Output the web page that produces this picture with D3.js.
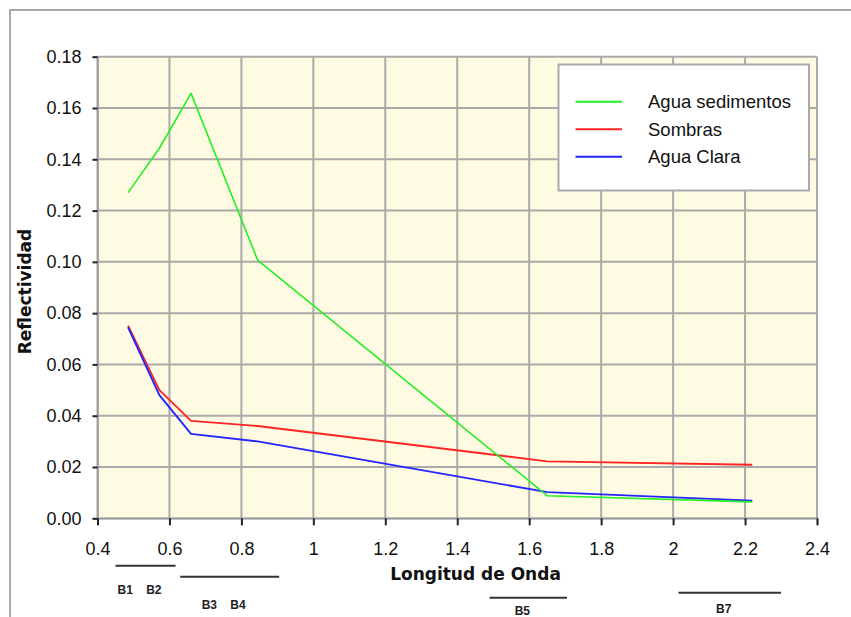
<!DOCTYPE html>
<html>
<head>
<meta charset="utf-8">
<script src="https://cdn.jsdelivr.net/npm/d3@7"></script>
<style>
  html, body { margin: 0; padding: 0; background: #ffffff; }
  svg { display: block; }
</style>
</head>
<body>
<svg id="chart" width="851" height="617"></svg>
<script>
// ---- data ----
const wavelengths = [0.485, 0.572, 0.66, 0.845, 1.65, 2.22];
const aguaSedimentos = [0.127, 0.1443, 0.1657, 0.1007, 0.0088, 0.0064];
const sombras = [0.0751, 0.050, 0.0380, 0.0360, 0.0222, 0.0209];
const aguaClara = [0.0745, 0.0480, 0.0329, 0.0300, 0.0102, 0.0069];
const seriesNames = ["Agua sedimentos", "Sombras", "Agua Clara"];
const seriesColors = ["#22f022", "#ff2424", "#2424ff"];
const yTicks = [0, 0.02, 0.04, 0.06, 0.08, 0.10, 0.12, 0.14, 0.16, 0.18];
const xTicks = [0.4, 0.6, 0.8, 1.0, 1.2, 1.4, 1.6, 1.8, 2.0, 2.2, 2.4];
const bandLabels = ["B1    B2", "B3    B4", "B5", "B7"];
const bandFrom = [0.45, 0.63, 1.49, 2.015];
const bandTo = [0.617, 0.905, 1.705, 2.30];

// ---- layout ----
const svg = d3.select("#chart");
const plot = { left: 97.5, right: 817, top: 56.7, bottom: 518.3 };
const x = d3.scaleLinear().domain([0.4, 2.4]).range([plot.left, plot.right]);
const y = d3.scaleLinear().domain([0, 0.18]).range([plot.bottom, plot.top]);

// outer frame
svg.append("rect").attr("x", 10).attr("y", 10).attr("width", 900).attr("height", 700)
  .attr("fill", "#ffffff").attr("stroke", "#a8a8a8").attr("stroke-width", 2);

// plot background
svg.append("rect").attr("x", plot.left).attr("y", plot.top)
  .attr("width", plot.right - plot.left).attr("height", plot.bottom - plot.top)
  .attr("fill", "#fefbe2");

// grid
const grid = svg.append("g").attr("stroke", "#aaaaaa").attr("stroke-width", 2);
grid.selectAll("line.gx").data(xTicks).join("line").attr("class", "gx")
  .attr("x1", d => x(d)).attr("x2", d => x(d)).attr("y1", plot.top).attr("y2", plot.bottom);
grid.selectAll("line.gy").data(yTicks).join("line").attr("class", "gy")
  .attr("x1", plot.left).attr("x2", plot.right).attr("y1", d => y(d)).attr("y2", d => y(d));

// axes
const yAxis = d3.axisLeft(y).tickValues(yTicks).tickFormat(d3.format(".2f"))
  .tickSize(5).tickPadding(11);
const gy = svg.append("g").attr("transform", `translate(${plot.left},0)`).call(yAxis);
gy.select(".domain").attr("stroke", "#999999").attr("stroke-width", 1.5);
gy.selectAll(".tick line").attr("stroke", "#222").attr("stroke-width", 2);
gy.selectAll("text").attr("font-family", "'Liberation Sans', Arial, sans-serif")
  .attr("font-size", 18).attr("fill", "#111");

const xAxis = d3.axisBottom(x).tickValues(xTicks).tickFormat(d3.format("~g"))
  .tickSize(7).tickPadding(17);
const gx = svg.append("g").attr("transform", `translate(0,${plot.bottom})`).call(xAxis);
gx.select(".domain").attr("stroke", "#999999").attr("stroke-width", 1.5);
gx.selectAll(".tick line").attr("stroke", "#222").attr("stroke-width", 2);
gx.selectAll("text").attr("font-family", "'Liberation Sans', Arial, sans-serif")
  .attr("font-size", 18).attr("fill", "#111");

// series
const allSeries = [aguaSedimentos, sombras, aguaClara];
const line = d3.line().x((d, i) => x(wavelengths[i])).y(d => y(d));
const drawOrder = [1, 2, 0];
drawOrder.forEach(k => {
  svg.append("path").datum(allSeries[k]).attr("d", line)
    .attr("fill", "none").attr("stroke", seriesColors[k])
    .attr("stroke-width", k === 0 ? 1.6 : 1.9).attr("stroke-linejoin", "round");
});

// axis titles
svg.append("text").attr("x", 475.5).attr("y", 580)
  .attr("text-anchor", "middle").attr("font-family", "'DejaVu Sans', Verdana, sans-serif")
  .attr("font-weight", "bold").attr("font-size", 17).attr("fill", "#111")
  .text("Longitud de Onda");
svg.append("text").attr("transform", "translate(31,291.5) rotate(-90)")
  .attr("text-anchor", "middle").attr("font-family", "'DejaVu Sans', Verdana, sans-serif")
  .attr("font-weight", "bold").attr("font-size", 17).attr("fill", "#111")
  .text("Reflectividad");

// legend
const lg = svg.append("g");
lg.append("rect").attr("x", 558.5).attr("y", 64.5).attr("width", 250.5).attr("height", 126)
  .attr("fill", "#ffffff").attr("stroke", "#aaaaaa").attr("stroke-width", 2);
const legendY = [101.7, 129.3, 156.7];
seriesNames.forEach((name, i) => {
  lg.append("line").attr("x1", 575.5).attr("x2", 622).attr("y1", legendY[i]).attr("y2", legendY[i])
    .attr("stroke", seriesColors[i]).attr("stroke-width", 2);
  lg.append("text").attr("x", 648).attr("y", legendY[i] + 6.5)
    .attr("font-family", "'Liberation Sans', Arial, sans-serif").attr("font-size", 18.5)
    .attr("fill", "#111").text(name);
});

// band markers
const bandLineY = [565.7, 576.7, 597.7, 592.7];
const bandTextY = [593.5, 608.5, 614.5, 613];
const bg = svg.append("g");
bandLabels.forEach((lab, i) => {
  bg.append("line").attr("x1", x(bandFrom[i])).attr("x2", x(bandTo[i]))
    .attr("y1", bandLineY[i]).attr("y2", bandLineY[i])
    .attr("stroke", "#333").attr("stroke-width", 2);
  bg.append("text").attr("x", (x(bandFrom[i]) + x(bandTo[i])) / 2 - 6).attr("y", bandTextY[i])
    .attr("text-anchor", "middle").attr("font-family", "'Liberation Sans', Arial, sans-serif")
    .attr("font-weight", "bold").attr("font-size", 12).attr("fill", "#222")
    .style("white-space", "pre").text(lab);
});
</script>
</body>
</html>
